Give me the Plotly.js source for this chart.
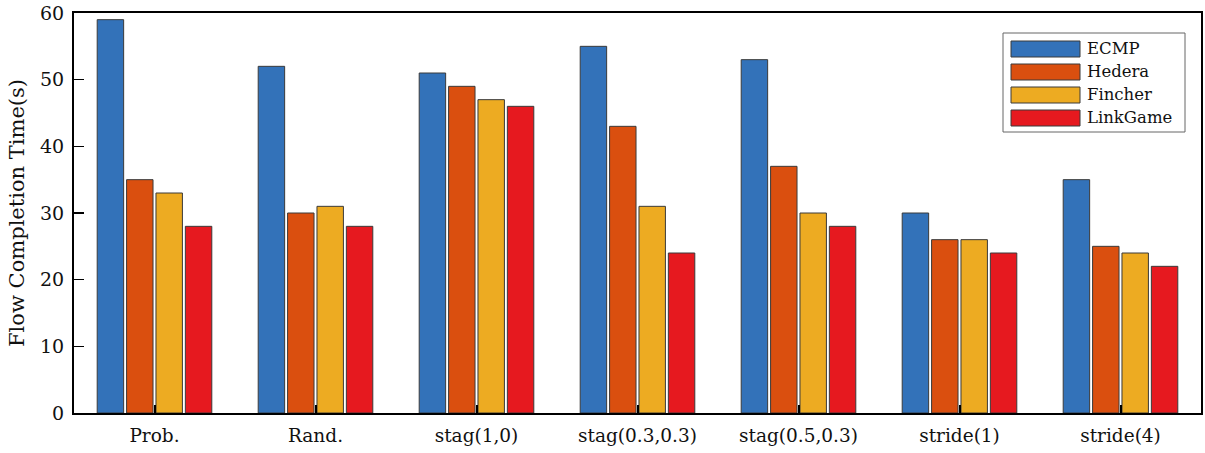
<!DOCTYPE html>
<html>
<head>
<meta charset="utf-8">
<script src="https://cdn.plot.ly/plotly-3.0.1.min.js"></script>
<style>html,body{margin:0;padding:0;background:#fff;}#chart{width:1205px;height:453px;}</style>
</head>
<body>
<div id="chart"></div>
<script>
const categories = ["Prob.", "Rand.", "stag(1,0)", "stag(0.3,0.3)", "stag(0.5,0.3)", "stride(1)", "stride(4)"];
const seriesNames = ["ECMP", "Hedera", "Fincher", "LinkGame"];
const ecmp     = [59, 52, 51, 55, 53, 30, 35];
const hedera   = [35, 30, 49, 43, 37, 26, 25];
const fincher  = [33, 31, 47, 31, 30, 26, 24];
const linkgame = [28, 28, 46, 24, 28, 24, 22];
const colors = ["#3372B9", "#DA4F0F", "#EDAB22", "#E6191F"];
const values = [ecmp, hedera, fincher, linkgame];

const font = "'DejaVu Serif', serif";
const traces = values.map((v, i) => ({
  type: "bar",
  name: seriesNames[i],
  x: categories,
  y: v,
  marker: {color: colors[i], line: {color: "#3a3a3a", width: 1}}
}));

// custom legend (layout decoration) in paper coordinates
const plotW = 1127, plotH = 400;
const px = x => (x - 74) / plotW;
const py = y => (413 - y) / plotH;
const shapes = [{
  type: "rect", xref: "paper", yref: "paper",
  x0: px(1003), x1: px(1185), y0: py(33), y1: py(132),
  line: {color: "#666", width: 1}, fillcolor: "#fff", layer: "above"
}];
const annotations = [];
seriesNames.forEach((n, i) => {
  const top = 41 + i * 23;
  shapes.push({
    type: "rect", xref: "paper", yref: "paper",
    x0: px(1011), x1: px(1080), y0: py(top), y1: py(top + 16),
    line: {color: "#3a3a3a", width: 1}, fillcolor: colors[i], layer: "above"
  });
  annotations.push({
    xref: "paper", yref: "paper", x: px(1085), y: py(top + 8),
    xanchor: "left", yanchor: "middle", showarrow: false, text: n,
    font: {family: font, size: 16.5, color: "#111"}
  });
});

const layout = {
  width: 1205, height: 453,
  margin: {l: 74, r: 4, t: 13, b: 40},
  paper_bgcolor: "#fff", plot_bgcolor: "#fff",
  barmode: "group", bargap: 0.27, bargroupgap: 0.1,
  font: {family: font, size: 18.5, color: "#111"},
  xaxis: {
    type: "category", range: [-0.5, 6.5],
    showline: true, mirror: true, linecolor: "#000", linewidth: 2,
    ticks: "inside", ticklen: 8, tickwidth: 2, tickcolor: "#000",
    showgrid: false, zeroline: false, ticklabelstandoff: 5,
    tickfont: {family: font, size: 18.5, color: "#111"}
  },
  yaxis: {
    range: [0, 60], dtick: 10,
    showline: true, mirror: true, linecolor: "#000", linewidth: 2,
    ticks: "inside", ticklen: 10, tickwidth: 1.5, tickcolor: "#000",
    showgrid: false, zeroline: false, ticklabelstandoff: 4,
    tickfont: {family: font, size: 19, color: "#111"},
    title: {text: "Flow Completion Time(s)", font: {family: font, size: 21, color: "#111"}, standoff: 10}
  },
  shapes: shapes,
  annotations: annotations,
  showlegend: false
};

Plotly.newPlot("chart", traces, layout, {displayModeBar: false, staticPlot: true});
</script>
</body>
</html>
